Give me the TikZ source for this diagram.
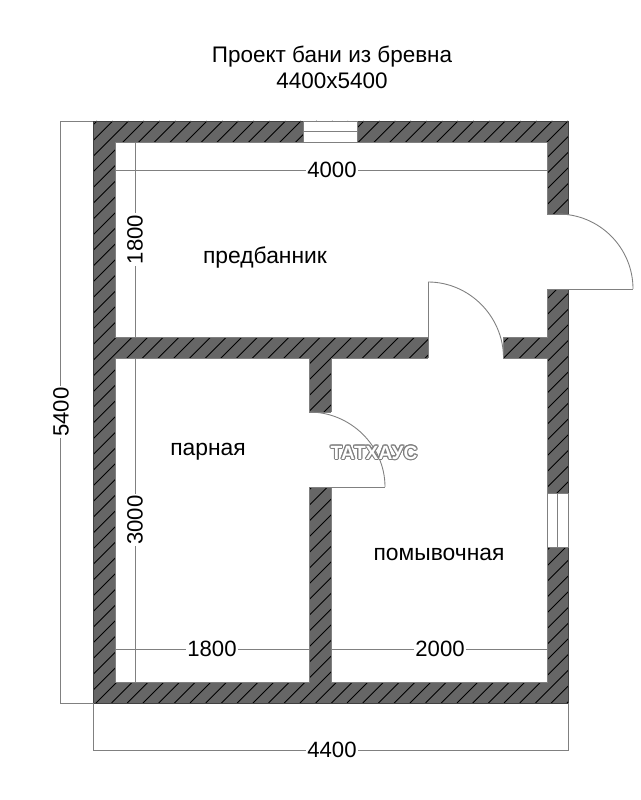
\documentclass[tikz,border=0pt]{standalone}
\usepackage{fontspec}
\setmainfont{Liberation Sans}
\usepackage{contour}
\contourlength{0.6pt}
\tikzset{>=latex}
\definecolor{wallgray}{HTML}{666666}
\definecolor{dimgray}{HTML}{808080}
\tikzset{
  dimline/.style={draw=dimgray,line width=0.5pt},
  dimtext/.style={fill=white,inner sep=1pt,font=\fontsize{12.6}{14}\selectfont},
  roomtext/.style={inner sep=0pt,font=\fontsize{13}{15}\selectfont},
  room/.style={fill=white,draw=dimgray,line width=0.5pt},
  gap/.style={fill=white}
}
\begin{document}
\begin{tikzpicture}[x=0.02cm,y=-0.02cm]
    \useasboundingbox (0,0) rectangle (640,800);
    \fill[white] (0,0) rectangle (640,800);
    % walls
    \fill[wallgray] (93,121) rectangle (568.5,703);
    \begin{scope}
        \clip (93,121) rectangle (568.5,703);
        \foreach \k in {97,112.7,...,1300} {
          \draw[black,line width=0.5pt] (\k,121) -- ({\k-582},703);
        }
    \end{scope}
    \draw[dimgray!50!black,line width=0.5pt] (93,121) rectangle (568.5,703);
    % rooms
    \draw[room] (115,142) rectangle (547,337);
    \draw[room] (115,358) rectangle (309,682);
    \draw[room] (331,358) rectangle (547,682);
    % openings
    \fill[gap] (428.2,336) rectangle (503.3,359);
    \fill[gap] (308,412.3) rectangle (332,487);
    \fill[gap] (546,214) rectangle (570,289);
    \draw[dimline] (309,412) -- (331,412);
    \draw[dimline] (309,487) -- (385,487);
    \draw[dimline] (547,214) -- (568.5,214);
    \draw[dimline] (547,289) -- (633,289);
    \draw[dimline] (503.5,337) -- (503.5,358);
    \draw[dimline] (428,358) -- (428,282);
    % doors
    \draw[dimline] (428,282) .. controls (469.4,282) and (503.5,316.6) .. (503.5,358);
    \draw[dimline] (558,214) .. controls (599.4,214) and (633,247.6) .. (633,289);
    \draw[dimline] (309,412) .. controls (350.4,412) and (385,445.6) .. (385,487);
    % windows
    \draw[room] (303.5,121) rectangle (357,142);
    \draw[dimline] (303.5,131.5) -- (357,131.5);
    \draw[room] (547,493) rectangle (568.5,547);
    \draw[dimline] (557.7,493) -- (557.7,547);
    % dimensions
    \draw[dimline] (93,121) -- (60,121) -- (60,703) -- (93,703);
    \draw[dimline] (93,703) -- (93,750) -- (568.5,750) -- (568.5,703);
    \draw[dimline] (115,170) -- (547,170);
    \draw[dimline] (115,649) -- (309,649);
    \draw[dimline] (331,649) -- (547,649);
    \draw[dimline] (135,142) -- (135,337);
    \draw[dimline] (135,358) -- (135,682);
    \node[dimtext] (dimtop) at (332,170) {4000};
    \node[dimtext,rotate=90] (dimhall) at (135,239.5) {1800};
    \node[dimtext,rotate=90] (dimsteam) at (135,520) {3000};
    \node[dimtext,rotate=90] (dimheight) at (61,412) {5400};
    \node[dimtext] (dimleft) at (212,649) {1800};
    \node[dimtext] (dimright) at (440,649) {2000};
    \node[dimtext] (dimwidth) at (332,750) {4400};
    % labels
    \node[roomtext] (hall) at (265,257.5) {предбанник};
    \node[roomtext] (steam) at (208,452) {парная};
    \node[roomtext] (wash) at (439,554) {помывочная};
    \node[roomtext,font=\fontsize{12.8}{15.2}\selectfont,align=center] (title) at (332,67.5)
      {Проект бани из бревна\\4400x5400};
    \node[inner sep=0pt,font=\bfseries\fontsize{10.9}{12}\selectfont] (mark) at (374,453)
      {\contour{gray}{\textcolor{white}{ТАТХАУС}}};
\end{tikzpicture}
\end{document}
